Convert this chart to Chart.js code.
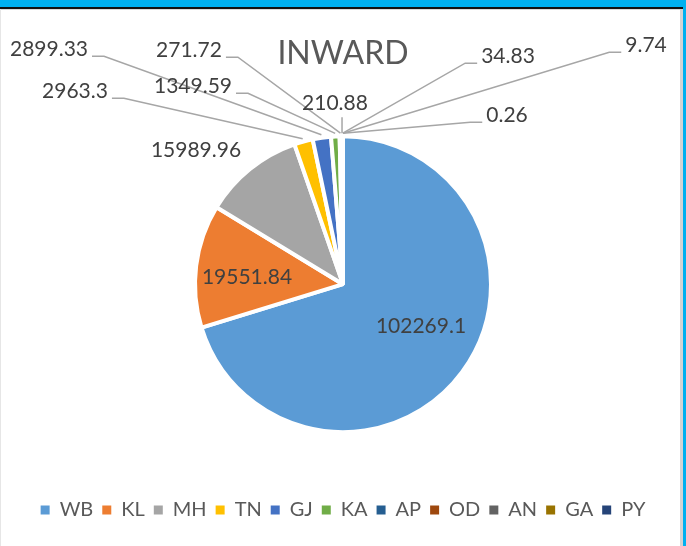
<!DOCTYPE html>
<html><head><meta charset="utf-8">
<script src="https://cdn.jsdelivr.net/npm/chart.js@4"></script>
<style>
html,body{margin:0;padding:0;background:#fff;overflow:hidden;width:686px;height:546px}
canvas{position:absolute;left:0;top:0}
.f{position:absolute}
</style></head><body>
<canvas id="c" width="686" height="546"></canvas>
<div class="f" style="left:0;top:0;width:686px;height:7px;background:#00B0F0"></div>
<div class="f" style="left:0;top:7px;width:684px;height:2px;background:#111"></div>
<div class="f" style="left:0;top:9px;width:681px;height:1px;background:#d9d9d9"></div>
<div class="f" style="left:683px;top:0;width:3px;height:546px;background:#00B0F0"></div>
<div class="f" style="left:680px;top:9px;width:3px;height:537px;background:#d4d4d4"></div>
<div class="f" style="left:0;top:9px;width:1px;height:537px;background:#e6e6e6"></div>
<script>
// ---- data ----
const categories = ['WB','KL','MH','TN','GJ','KA','AP','OD','AN','GA','PY'];
const inwardValues = [102269.1, 19551.84, 15989.96, 2963.3, 2899.33, 1349.59, 271.72, 210.88, 34.83, 9.74, 0.26];
const valueLabels = inwardValues.map(v => String(v));
const chartTitle = 'INWARD';

// ---- style / layout ----
const sliceColors = ['#5B9BD5','#ED7D31','#A5A5A5','#FFC000','#4472C4','#70AD47','#255E91','#9E480E','#636363','#997300','#264478'];
// label text centre, relative to the pie centre (px)
const labelOffsets = [[78,42],[-96,-7],[-147,-134],[-268,-193],[-294,-235],[-150,-198],[-154,-234],[-8,-181],[165,-228],[303,-239],[164,-169]];
// leader type: '' none, 'L' label left of slice, 'R' label right of slice, 'V' vertical
const leaderTypes = ['','','','L','L','L','L','V','R','R','R'];

const labelPlugin = {
  id: 'valueLabels',
  afterDatasetsDraw(chart) {
    const ctx = chart.ctx;
    const meta = chart.getDatasetMeta(0);
    ctx.save();
    ctx.font = '21px Lato';
    ctx.textAlign = 'center';
    ctx.textBaseline = 'middle';
    ctx.strokeStyle = '#A6A6A6';
    ctx.lineWidth = 1.5;
    meta.data.forEach((arc, i) => {
      const p = arc.getProps(['x','y','startAngle','endAngle','outerRadius'], true);
      const tx = p.x + labelOffsets[i][0], ty = p.y + labelOffsets[i][1];
      const mid = (p.startAngle + p.endAngle) / 2;
      const px = p.x + Math.cos(mid) * (p.outerRadius + 3);
      const py = p.y + Math.sin(mid) * (p.outerRadius + 3);
      const text = valueLabels[i];
      const w = ctx.measureText(text).width;
      const t = leaderTypes[i];
      ctx.beginPath();
      if (t === 'L') {
        const x0 = tx + w / 2 + 4, ly = ty + 7;
        ctx.moveTo(x0, ly); ctx.lineTo(x0 + 12, ly); ctx.lineTo(px, py);
      } else if (t === 'R') {
        const x0 = tx - w / 2 - 4, ly = ty + 7;
        ctx.moveTo(x0, ly); ctx.lineTo(x0 - 12, ly); ctx.lineTo(px, py);
      } else if (t === 'V') {
        ctx.moveTo(px, ty + 14); ctx.lineTo(px, py);
      }
      if (t) ctx.stroke();
      ctx.fillStyle = '#404040';
      ctx.fillText(text, tx, ty);
    });
    ctx.restore();
  }
};

new Chart(document.getElementById('c'), {
  type: 'pie',
  data: {
    labels: categories,
    datasets: [{
      data: inwardValues,
      backgroundColor: sliceColors,
      borderColor: '#ffffff',
      borderWidth: 4
    }]
  },
  options: {
    responsive: false,
    animation: false,
    devicePixelRatio: 1,
    radius: 148,
    layout: { padding: { top: 0, bottom: 16, left: 0, right: 0 } },
    plugins: {
      title: {
        display: true, text: chartTitle, color: '#595959',
        font: { family: 'Lato', size: 32, weight: 'normal' },
        padding: { top: 34, bottom: 5 }
      },
      legend: {
        position: 'bottom',
        labels: {
          color: '#595959',
          font: { family: 'Lato', size: 20 },
          boxWidth: 9, boxHeight: 9, padding: 9,
          generateLabels(chart) {
            const base = Chart.overrides.doughnut.plugins.legend.labels.generateLabels(chart);
            return base.map(it => Object.assign(it, { lineWidth: 0, strokeStyle: it.fillStyle }));
          }
        }
      },
      tooltip: { enabled: false }
    }
  },
  plugins: [labelPlugin]
});
</script>
</body></html>
